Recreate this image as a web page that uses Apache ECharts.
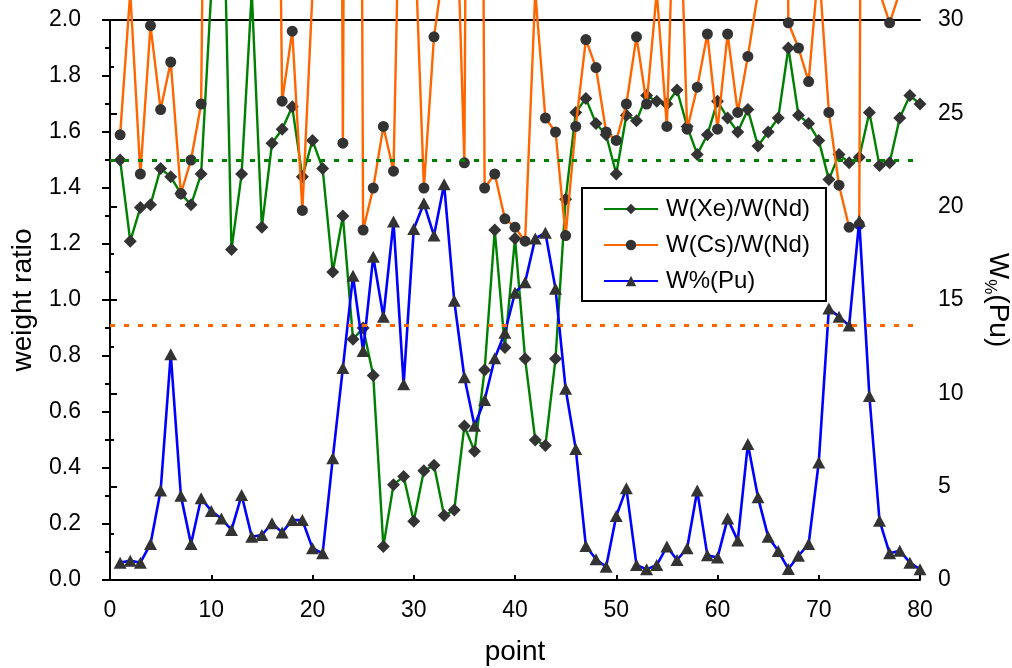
<!DOCTYPE html>
<html>
<head>
<meta charset="utf-8">
<title>Weight ratios and Pu content by point</title>
<script src="https://cdn.jsdelivr.net/npm/echarts@6/dist/echarts.min.js"></script>
<style>
  html, body { margin: 0; padding: 0; background: #ffffff; }
  #chart { width: 1012px; height: 668px; }
</style>
</head>
<body>
<div id="chart"></div>
<script>
// Measurement point numbers (1..80)
const pointNo = Array.from({ length: 80 }, (_, i) => i + 1);

// W(Xe)/W(Nd) weight ratio (left axis)
const xeNd = [
  1.50, 1.21, 1.33, 1.34, 1.47, 1.44, 1.38, 1.34, 1.45, 2.10,
  2.80, 1.18, 1.45, 2.10, 1.26, 1.56, 1.61, 1.69, 1.44, 1.57,
  1.47, 1.10, 1.30, 0.86, 0.90, 0.73, 0.12, 0.34, 0.37, 0.21,
  0.39, 0.41, 0.23, 0.25, 0.55, 0.46, 0.75, 1.25, 0.83, 1.22,
  0.79, 0.50, 0.48, 0.79, 1.36, 1.67, 1.72, 1.63, 1.59, 1.45,
  1.66, 1.64, 1.73, 1.71, 1.70, 1.75, 1.62, 1.52, 1.59, 1.71,
  1.65, 1.60, 1.68, 1.55, 1.60, 1.65, 1.90, 1.66, 1.63, 1.57,
  1.43, 1.52, 1.49, 1.51, 1.67, 1.48, 1.49, 1.65, 1.73, 1.70
];

// W(Cs)/W(Nd) weight ratio (left axis)
const csNd = [
  1.59, 2.10, 1.45, 1.98, 1.68, 1.85, 1.38, 1.50, 1.70, 5.00,
  4.00, 4.00, 4.00, 4.00, 4.00, 5.00, 1.71, 1.96, 1.32, 2.10,
  3.00, 10.0, 1.56, 10.0, 1.25, 1.40, 1.62, 1.46, 3.20, 2.40,
  1.40, 1.94, 2.20, 2.70, 1.49, 8.00, 1.40, 1.45, 1.29, 1.26,
  1.21, 2.10, 1.65, 1.60, 1.23, 1.62, 1.93, 1.83, 1.60, 1.57,
  1.70, 1.94, 1.70, 2.10, 1.62, 2.80, 1.61, 1.76, 1.95, 1.61,
  1.95, 1.67, 1.87, 2.10, 3.00, 6.00, 1.99, 1.90, 1.78, 2.20,
  1.67, 1.41, 1.26, 1.27, 10.0, 2.10, 1.99, 2.10, 3.00, 3.00
];

// W%(Pu) (right axis)
const puPct = [
  0.93, 1.03, 0.93, 1.93, 4.79, 12.1, 4.52, 1.93, 4.38, 3.70,
  3.29, 2.68, 4.55, 2.32, 2.41, 3.04, 2.55, 3.21, 3.21, 1.70,
  1.43, 6.52, 11.36, 16.3, 12.27, 17.32, 14.1, 19.2, 10.48, 18.8,
  20.18, 18.45, 21.2, 14.96, 10.86, 8.27, 9.64, 11.88, 13.25, 15.39,
  15.95, 18.3, 18.6, 15.6, 10.25, 7.02, 1.82, 1.11, 0.71, 3.43,
  4.91, 0.80, 0.57, 0.80, 1.79, 1.07, 1.70, 4.79, 1.32, 1.20,
  3.29, 2.11, 7.29, 4.43, 2.32, 1.55, 0.59, 1.30, 1.93, 6.30,
  14.55, 14.1, 13.63, 19.25, 9.86, 3.18, 1.43, 1.57, 0.93, 0.57
];

// Reference levels drawn as dashed lines (left axis)
const xeNdLevel = 1.5;
const csNdLevel = 0.91;

const seriesNames = ['W(Xe)/W(Nd)', 'W(Cs)/W(Nd)', 'W%(Pu)'];

const FONT = '"Liberation Sans", Arial, sans-serif';
const MARK = '#333333';

const pairs = (vals) => vals.map((v, i) => [pointNo[i], v]);

const chart = echarts.init(document.getElementById('chart'), null, { renderer: 'canvas' });

const dashedLevel = (value, color) => ({
  silent: true,
  symbol: 'none',
  label: { show: false },
  emphasis: { disabled: true },
  lineStyle: { color: color, type: [5, 9], width: 3 },
  data: [{ yAxis: value }]
});

chart.setOption({
  animation: false,
  backgroundColor: '#ffffff',
  textStyle: { fontFamily: FONT, color: '#000' },
  grid: { left: 110, right: 92, top: 20, bottom: 88, containLabel: false, outerBoundsMode: 'none' },
  legend: {
    orient: 'vertical',
    left: 582, top: 188,
    padding: [9, 16, 8, 21],
    itemGap: 12,
    itemWidth: 54, itemHeight: 13,
    backgroundColor: '#ffffff',
    borderColor: '#000', borderWidth: 2,
    textStyle: { fontSize: 24, color: '#000', fontFamily: FONT, padding: [0, 0, 0, 3] },
    data: seriesNames
  },
  xAxis: [
    {
      type: 'value', min: 0, max: 80, interval: 10, position: 'bottom',
      name: 'point', nameLocation: 'middle', nameGap: 58,
      nameTextStyle: { fontSize: 28, color: '#000', fontFamily: FONT },
      axisLine: { show: true, onZero: false, lineStyle: { color: '#000', width: 2 } },
      axisTick: { show: true, inside: true, length: 5, lineStyle: { color: '#000', width: 2 } },
      axisLabel: { fontSize: 23, color: '#000', margin: 19, fontFamily: FONT },
      splitLine: { show: false }
    },
    {
      // plain frame line along the top edge
      type: 'value', min: 0, max: 80, position: 'top',
      axisLine: { show: true, onZero: false, lineStyle: { color: '#000', width: 2 } },
      axisTick: { show: false }, axisLabel: { show: false }, splitLine: { show: false }
    }
  ],
  yAxis: [
    {
      type: 'value', min: 0, max: 2, interval: 0.2, position: 'left',
      name: 'weight ratio', nameLocation: 'middle', nameGap: 73,
      nameTextStyle: { fontSize: 28, color: '#000', fontFamily: FONT },
      axisLine: { show: true, lineStyle: { color: '#000', width: 2 } },
      axisTick: { show: true, inside: false, length: 8, lineStyle: { color: '#000', width: 2 } },
      minorTick: { show: true, splitNumber: 2, length: 5, lineStyle: { color: '#000', width: 2 } },
      axisLabel: { fontSize: 23, color: '#000', margin: 29, fontFamily: FONT,
        formatter: (v) => v.toFixed(1) },
      splitLine: { show: false }
    },
    {
      type: 'value', min: 0, max: 30, interval: 5, position: 'right',
      name: '{w|W}{s|%}{w|(Pu)}', nameLocation: 'middle', nameGap: 64, nameRotate: -90,
      nameTextStyle: {
        fontSize: 28, color: '#000', fontFamily: FONT,
        rich: {
          w: { fontSize: 28, lineHeight: 28, verticalAlign: 'top', color: '#000', fontFamily: FONT },
          s: { fontSize: 17, lineHeight: 17, verticalAlign: 'top', padding: [14, 0, 0, 0], color: '#000', fontFamily: FONT }
        }
      },
      axisLine: { show: true, lineStyle: { color: '#000', width: 2 } },
      axisTick: { show: true, inside: false, length: 7, lineStyle: { color: '#000', width: 2 } },
      minorTick: { show: true, splitNumber: 2, length: 4, lineStyle: { color: '#000', width: 2 } },
      axisLabel: { fontSize: 23, color: '#000', margin: 18, fontFamily: FONT },
      splitLine: { show: false }
    }
  ],
  series: [
    {
      name: seriesNames[0], type: 'line', yAxisIndex: 0, clip: false,
      data: pairs(xeNd),
      symbol: 'diamond', symbolSize: 13,
      itemStyle: { color: MARK },
      lineStyle: { color: '#008000', width: 2.4 },
      markLine: dashedLevel(xeNdLevel, '#008000'),
      z: 2
    },
    {
      name: seriesNames[1], type: 'line', yAxisIndex: 0, clip: false,
      data: pairs(csNd),
      symbol: 'circle', symbolSize: 11,
      itemStyle: { color: MARK },
      lineStyle: { color: '#FF6600', width: 2.4 },
      markLine: dashedLevel(csNdLevel, '#FF6600'),
      z: 3
    },
    {
      name: seriesNames[2], type: 'line', yAxisIndex: 1,
      data: pairs(puPct),
      symbol: 'triangle', symbolSize: [13, 12],
      itemStyle: { color: MARK },
      lineStyle: { color: '#0000FF', width: 2.6 },
      z: 4
    }
  ]
});
</script>
</body>
</html>
